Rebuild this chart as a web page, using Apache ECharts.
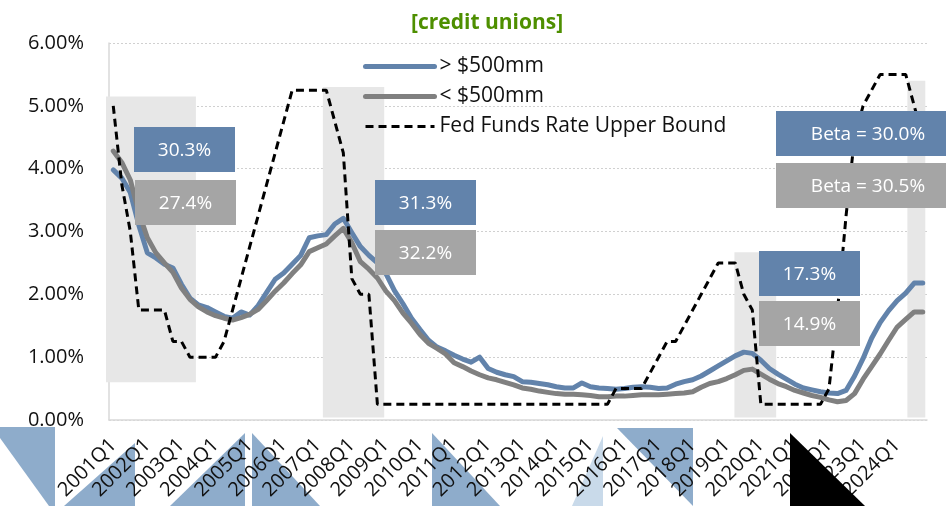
<!DOCTYPE html>
<html><head><meta charset="utf-8">
<script src="https://cdn.jsdelivr.net/npm/echarts@6/dist/echarts.min.js"></script>
<style>html,body{margin:0;padding:0;background:#fff}#c{width:946px;height:506px}</style>
</head><body><div id="c"></div>
<script>
const quarters = [
 '2001Q1','2001Q2','2001Q3','2001Q4','2002Q1','2002Q2','2002Q3','2002Q4',
 '2003Q1','2003Q2','2003Q3','2003Q4','2004Q1','2004Q2','2004Q3','2004Q4',
 '2005Q1','2005Q2','2005Q3','2005Q4','2006Q1','2006Q2','2006Q3','2006Q4',
 '2007Q1','2007Q2','2007Q3','2007Q4','2008Q1','2008Q2','2008Q3','2008Q4',
 '2009Q1','2009Q2','2009Q3','2009Q4','2010Q1','2010Q2','2010Q3','2010Q4',
 '2011Q1','2011Q2','2011Q3','2011Q4','2012Q1','2012Q2','2012Q3','2012Q4',
 '2013Q1','2013Q2','2013Q3','2013Q4','2014Q1','2014Q2','2014Q3','2014Q4',
 '2015Q1','2015Q2','2015Q3','2015Q4','2016Q1','2016Q2','2016Q3','2016Q4',
 '2017Q1','2017Q2','2017Q3','2017Q4','2018Q1','2018Q2','2018Q3','2018Q4',
 '2019Q1','2019Q2','2019Q3','2019Q4','2020Q1','2020Q2','2020Q3','2020Q4',
 '2021Q1','2021Q2','2021Q3','2021Q4','2022Q1','2022Q2','2022Q3','2022Q4',
 '2023Q1','2023Q2','2023Q3','2023Q4','2024Q1','2024Q2','2024Q3','2024Q4'];

const largeCU = [
 3.98,3.85,3.62,3.10,2.66,2.58,2.48,2.42,
 2.16,1.94,1.83,1.79,1.72,1.65,1.62,1.72,
 1.67,1.82,2.03,2.24,2.34,2.48,2.62,2.90,
 2.93,2.95,3.12,3.21,2.98,2.76,2.62,2.50,
 2.33,2.06,1.85,1.62,1.44,1.27,1.16,1.10,
 1.03,0.97,0.92,1.00,0.82,0.76,0.72,0.69,
 0.61,0.60,0.58,0.56,0.53,0.51,0.51,0.59,
 0.53,0.51,0.50,0.49,0.50,0.52,0.53,0.52,
 0.50,0.51,0.57,0.61,0.64,0.70,0.78,0.86,
 0.94,1.02,1.08,1.06,0.95,0.82,0.73,0.65,
 0.57,0.51,0.48,0.45,0.43,0.42,0.47,0.70,
 0.98,1.30,1.55,1.74,1.90,2.02,2.18,2.18];

const smallCU = [
 4.28,4.10,3.82,3.30,2.90,2.66,2.50,2.35,
 2.10,1.92,1.80,1.72,1.66,1.62,1.59,1.63,
 1.68,1.76,1.90,2.05,2.18,2.33,2.47,2.68,
 2.74,2.80,2.93,3.05,2.82,2.52,2.40,2.26,
 2.05,1.90,1.70,1.54,1.36,1.22,1.14,1.05,
 0.91,0.85,0.78,0.72,0.67,0.64,0.60,0.56,
 0.51,0.49,0.46,0.44,0.42,0.41,0.41,0.40,
 0.39,0.37,0.37,0.38,0.38,0.39,0.40,0.40,
 0.40,0.41,0.42,0.43,0.45,0.52,0.58,0.61,
 0.66,0.72,0.79,0.81,0.73,0.65,0.58,0.53,
 0.47,0.43,0.39,0.36,0.32,0.29,0.31,0.42,
 0.65,0.85,1.05,1.27,1.48,1.60,1.72,1.72];

const fedFunds = [
 5.00,3.75,3.00,1.75,1.75,1.75,1.75,1.25,
 1.25,1.00,1.00,1.00,1.00,1.25,1.75,2.25,
 2.75,3.25,3.75,4.25,4.75,5.25,5.25,5.25,
 5.25,5.25,4.75,4.25,2.25,2.00,2.00,0.25,
 0.25,0.25,0.25,0.25,0.25,0.25,0.25,0.25,
 0.25,0.25,0.25,0.25,0.25,0.25,0.25,0.25,
 0.25,0.25,0.25,0.25,0.25,0.25,0.25,0.25,
 0.25,0.25,0.25,0.50,0.50,0.50,0.50,0.75,
 1.00,1.25,1.25,1.50,1.75,2.00,2.25,2.50,
 2.50,2.50,2.00,1.75,0.25,0.25,0.25,0.25,
 0.25,0.25,0.25,0.25,0.50,1.75,3.25,4.50,
 5.00,5.25,5.50,5.50,5.50,5.50,5.00,4.50];

const seriesNames = ['> $500mm', '< $500mm', 'Fed Funds Rate Upper Bound'];
const yTicks = [0, 1, 2, 3, 4, 5, 6];

// shaded periods: [startQuarterPos, endQuarterPos, lowRate, highRate]
const shadeStart = [-0.35, 25.1, 73.4, 93.7];
const shadeEnd   = [10.2, 32.3, 78.3, 95.8];
const shadeLow   = [0.60, 0.04, 0.04, 0.04];
const shadeHigh  = [5.15, 5.30, 2.67, 5.40];

const betaLarge = ['30.3%', '31.3%', '17.3%', 'Beta = 30.0%'];
const betaSmall = ['27.4%', '32.2%', '14.9%', 'Beta = 30.5%'];

const FONT = '"Open Sans", Lato, sans-serif';
const BLUE = '#6283AB', GRAY = '#808080', BOXGRAY = '#A5A5A5', TRI = '#8EACCB';

const chart = echarts.init(document.getElementById('c'), null, {renderer: 'canvas'});

function box(x, y, w, h, fill, text, cx) {
  return {type: 'group', z: 100, children: [
    {type: 'rect', z: 100, shape: {x: x, y: y, width: w, height: h}, style: {fill: fill}},
    {type: 'text', z: 101, style: {text: text, x: cx == null ? x + w / 2 : cx, y: y + h / 2 + 1,
      align: 'center', verticalAlign: 'middle', fill: '#fff', font: '19px ' + FONT}}
  ]};
}
function tri(points, fill, z) {
  return {type: 'polygon', z: z, silent: true, shape: {points: points}, style: {fill: fill}};
}

const option = {
  backgroundColor: '#fff',
  animation: false,
  title: {text: '[credit unions]', left: 406, top: 8,
    textStyle: {color: '#4E8F00', fontFamily: FONT, fontWeight: 'bold', fontSize: 21}},
  legend: {
    orient: 'vertical', left: 358, top: 51, itemWidth: 69, itemHeight: 14, itemGap: 9,
    itemStyle: {opacity: 0},
    data: [
      {name: seriesNames[0], lineStyle: {width: 5, color: BLUE}},
      {name: seriesNames[1], lineStyle: {width: 5, color: GRAY}},
      {name: seriesNames[2], lineStyle: {width: 3, color: '#000', type: [8, 5]}}
    ],
    textStyle: {fontFamily: FONT, fontSize: 21, color: '#111'}
  },
  grid: {left: 109, right: 19, top: 43, bottom: 86},
  xAxis: [{
    type: 'category', data: quarters, boundaryGap: true,
    axisLine: {lineStyle: {color: '#D9D9D9', width: 1.5}},
    axisTick: {show: false},
    axisLabel: {interval: 3, rotate: 45, margin: 22, fontFamily: FONT, fontSize: 20, color: '#111', hideOverlap: false},
    splitLine: {show: false}
  }, {
    type: 'value', min: 0, max: quarters.length, show: false
  }],
  yAxis: {
    type: 'value', min: yTicks[0], max: yTicks[yTicks.length - 1], interval: 1,
    axisLine: {show: true, lineStyle: {color: '#D9D9D9', width: 1.5}},
    axisTick: {show: false},
    axisLabel: {margin: 25, fontFamily: FONT, fontSize: 20, color: '#111',
      formatter: v => v.toFixed(2) + '%'},
    splitLine: {lineStyle: {color: '#D0D0D0', type: [2, 2], width: 1}}
  },
  series: [
    {
      type: 'custom', xAxisIndex: 1, yAxisIndex: 0, silent: true, z: 1, clip: false,
      data: shadeStart.map((s, i) => [s, shadeEnd[i], shadeLow[i], shadeHigh[i]]),
      encode: {x: [0, 1], y: [2, 3]},
      renderItem: function (params, api) {
        const p0 = api.coord([api.value(0), api.value(3)]);
        const p1 = api.coord([api.value(1), api.value(2)]);
        return {type: 'rect', shape: {x: p0[0], y: p0[1], width: p1[0] - p0[0], height: p1[1] - p0[1]},
          style: {fill: '#E7E7E7'}};
      }
    },
    {name: seriesNames[0], type: 'line', data: largeCU, symbol: 'none', z: 3,
      lineStyle: {color: BLUE, width: 5, join: 'round', cap: 'round'}, itemStyle: {color: BLUE}},
    {name: seriesNames[1], type: 'line', data: smallCU, symbol: 'none', z: 4,
      lineStyle: {color: GRAY, width: 5, join: 'round', cap: 'round'}, itemStyle: {color: GRAY}},
    {name: seriesNames[2], type: 'line', data: fedFunds, symbol: 'none', z: 5,
      lineStyle: {color: '#000', width: 3, type: [8, 5]}, itemStyle: {color: '#000'}}
  ],
  graphic: [
    tri([[0,427],[55,427],[55,506],[49,506],[0,438]], TRI, -10),
    tri([[64,506],[135,443],[135,506]], TRI, -10),
    tri([[170,506],[245,433],[245,506]], TRI, -10),
    tri([[252,433],[252,506],[320,506]], TRI, -10),
    tri([[432,433],[432,506],[500,506]], TRI, -10),
    tri([[572,506],[603,436],[603,506]], '#C9DAEA', -10),
    tri([[617,428],[693,428],[693,506]], TRI, -10),
    tri([[790,433],[790,506],[865,506]], '#000', 200),
    box(134, 127, 101, 45, BLUE, betaLarge[0]),
    box(135, 180, 101, 45, BOXGRAY, betaSmall[0]),
    box(375, 180, 101, 45, BLUE, betaLarge[1]),
    box(375, 230, 101, 45, BOXGRAY, betaSmall[1]),
    box(759, 251, 101, 45, BLUE, betaLarge[2]),
    box(759, 301, 101, 45, BOXGRAY, betaSmall[2]),
    box(776, 111, 175, 45, BLUE, betaLarge[3], 868),
    box(776, 163, 175, 45, BOXGRAY, betaSmall[3], 868)
  ]
};
chart.setOption(option);
</script>
</body></html>
